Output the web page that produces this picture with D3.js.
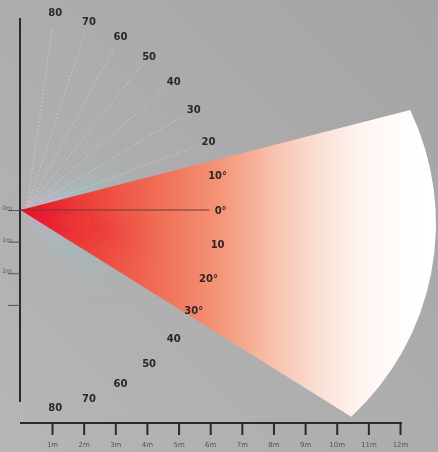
<!DOCTYPE html>
<html><head><meta charset="utf-8">
<script src="https://cdn.jsdelivr.net/npm/d3@7"></script>
<style>html,body{margin:0;padding:0;background:#acacac;overflow:hidden}svg{display:block}</style>
</head><body>
<script>
// ---- data ----
const xTickValues = [1,2,3,4,5,6,7,8,9,10,11,12];
const xTickLabels = ["1m","2m","3m","4m","5m","6m","7m","8m","9m","10m","11m","12m"];
const yTickValues = [0,1,2,3];
const yTickLabels = ["0m","1m","2m",""];
const labelAngles = [-80,-70,-60,-50,-40,-30,-20,-10,0,10,20,30,40,50,60,70,80];
const labelTexts  = ["80","70","60","50","40","30","20","10°","0°","10","20°","30°","40","50","60","70","80"];
const rayAngles = [-80,-70,-60,-50,-40,-30,-20];
const beamAngles = [-14.4, 32];      // degrees (positive = downward)
const beamRanges = [12.72, 12.33];   // metres to the two far corners
const beamBulge = 8.3;               // radius of the far edge (metres)
const labelRadius = 6.33;            // metres

const W = 438, H = 452;
const svg = d3.select("body").append("svg").attr("width", W).attr("height", H);
const defs = svg.append("defs");

const x = d3.scaleLinear().domain([0, 12]).range([20.4, 400]);
const y = d3.scaleLinear().domain([-6.07, 6.07]).range([18, 402]);
const pxPerM = x(1) - x(0);
const pt = (a, r) => [x(r * Math.cos(a * Math.PI / 180)), y(r * Math.sin(a * Math.PI / 180))];
const [ox, oy] = pt(0, 0);

// background
const bg = defs.append("linearGradient").attr("id", "bg").attr("x1", 1).attr("y1", 0).attr("x2", 0).attr("y2", 1);
bg.append("stop").attr("offset", 0).attr("stop-color", "#a4a4a4");
bg.append("stop").attr("offset", 1).attr("stop-color", "#b6b6b6");
svg.append("rect").attr("width", W).attr("height", H).attr("fill", "url(#bg)");

const blur = defs.append("filter").attr("id", "soft").attr("x", "-5%").attr("y", "-5%").attr("width", "110%").attr("height", "110%");
blur.append("feGaussianBlur").attr("stdDeviation", 0.7);
const glowF = defs.append("filter").attr("id", "glow").attr("x", "-50%").attr("y", "-50%").attr("width", "200%").attr("height", "200%");
glowF.append("feGaussianBlur").attr("stdDeviation", 8);

const g = svg.append("g").attr("filter", "url(#soft)");

// halo near the source
const halo = defs.append("radialGradient").attr("id", "halo").attr("gradientUnits", "userSpaceOnUse")
  .attr("cx", ox).attr("cy", oy).attr("r", 4 * pxPerM);
halo.append("stop").attr("offset", 0).attr("stop-color", "#c8c8f0").attr("stop-opacity", 0.9);
halo.append("stop").attr("offset", 0.5).attr("stop-color", "#9cc0c0").attr("stop-opacity", 0.5);
halo.append("stop").attr("offset", 1).attr("stop-color", "#a8b8b8").attr("stop-opacity", 0);
const haloArc = d3.path();
haloArc.moveTo(ox, oy);
{
  const p1 = pt(beamAngles[0] - 14, 4);
  haloArc.lineTo(p1[0], p1[1]);
  haloArc.arc(ox, oy, 4 * pxPerM, (beamAngles[0] - 14) * Math.PI / 180, (beamAngles[1] + 14) * Math.PI / 180);
  haloArc.closePath();
}
g.append("path").attr("d", haloArc.toString()).attr("fill", "url(#halo)").attr("filter", "url(#glow)");

// rays
g.selectAll("line.ray").data(rayAngles).join("line").attr("class", "ray")
  .attr("x1", ox + 6).attr("y1", oy)
  .attr("x2", d => pt(d, labelRadius - 0.45)[0]).attr("y2", d => pt(d, labelRadius - 0.45)[1])
  .attr("stroke", "#d2d2d2").attr("stroke-width", 1).attr("stroke-dasharray", "2,2").attr("opacity", 0.7);

// beam
const beamGrad = defs.append("linearGradient").attr("id", "beam").attr("gradientUnits", "userSpaceOnUse")
  .attr("x1", ox).attr("y1", oy).attr("x2", x(12.7)).attr("y2", oy);
[[0, "#e8132b"], [0.08, "#eb2832"], [0.2, "#ed4a3e"], [0.36, "#f07259"], [0.5, "#f49679"],
 [0.62, "#f7bea9"], [0.74, "#fadfd4"], [0.85, "#fef5f2"], [1, "#ffffff"]]
  .forEach(([o, c]) => beamGrad.append("stop").attr("offset", o).attr("stop-color", c));
const c1 = pt(beamAngles[0], beamRanges[0]);
const c2 = pt(beamAngles[1], beamRanges[1]);
const R = beamBulge * pxPerM;
g.append("path")
  .attr("d", `M${ox},${oy}L${c1[0]},${c1[1]}A${R},${R} 0 0 1 ${c2[0]},${c2[1]}Z`)
  .attr("fill", "url(#beam)");

// core streak
const core = defs.append("radialGradient").attr("id", "core").attr("gradientUnits", "userSpaceOnUse")
  .attr("cx", ox).attr("cy", oy).attr("r", 4.5 * pxPerM);
core.append("stop").attr("offset", 0).attr("stop-color", "#e0102a").attr("stop-opacity", 0.45);
core.append("stop").attr("offset", 1).attr("stop-color", "#e8202c").attr("stop-opacity", 0);
const cp = d3.path();
cp.moveTo(ox, oy);
cp.arc(ox, oy, 4.5 * pxPerM, 4 * Math.PI / 180, 22 * Math.PI / 180);
cp.closePath();
g.append("path").attr("d", cp.toString()).attr("fill", "url(#core)").attr("filter", "url(#glow)");

// 0° line
g.append("line").attr("x1", ox).attr("y1", oy).attr("x2", pt(0, labelRadius - 0.35)[0]).attr("y2", oy)
  .attr("stroke", "#6e3a34").attr("stroke-width", 1);

// angle labels
g.selectAll("text.ang").data(labelAngles).join("text").attr("class", "ang")
  .attr("x", d => pt(d, labelRadius)[0]).attr("y", d => pt(d, labelRadius)[1])
  .attr("text-anchor", "middle").attr("dominant-baseline", "central")
  .attr("font-family", "DejaVu Sans, sans-serif").attr("font-size", 10).attr("font-weight", 600).attr("fill", "#2e2626")
  .text((d, i) => labelTexts[i]);

// x axis
const xa = g.append("g").attr("transform", `translate(0,423)`)
  .call(d3.axisBottom(x).tickValues(xTickValues).tickFormat((d, i) => xTickLabels[i]).tickSize(12).tickSizeOuter(0));
xa.select(".domain").attr("d", `M20,0H402`).attr("stroke", "#2a2a2a").attr("stroke-width", 2);
xa.selectAll(".tick line").attr("stroke", "#2a2a2a").attr("stroke-width", 2);
xa.selectAll(".tick text").attr("font-family", "DejaVu Sans, sans-serif").attr("font-size", 7).attr("fill", "#555").attr("dy", "1.3em");

// y axis
const ya = g.append("g").attr("transform", `translate(20,0)`)
  .call(d3.axisLeft(y).tickValues(yTickValues).tickFormat((d, i) => yTickLabels[i]).tickSize(12).tickSizeOuter(0));
ya.select(".domain").attr("d", `M0,18V402`).attr("stroke", "#2a2a2a").attr("stroke-width", 2);
ya.selectAll(".tick line").attr("stroke", "#555").attr("stroke-width", 1);
ya.selectAll(".tick text").attr("font-family", "DejaVu Sans, sans-serif").attr("font-size", 6).attr("fill", "#555").attr("x", -8).attr("dy", "-0.1em");
</script>
</body></html>
